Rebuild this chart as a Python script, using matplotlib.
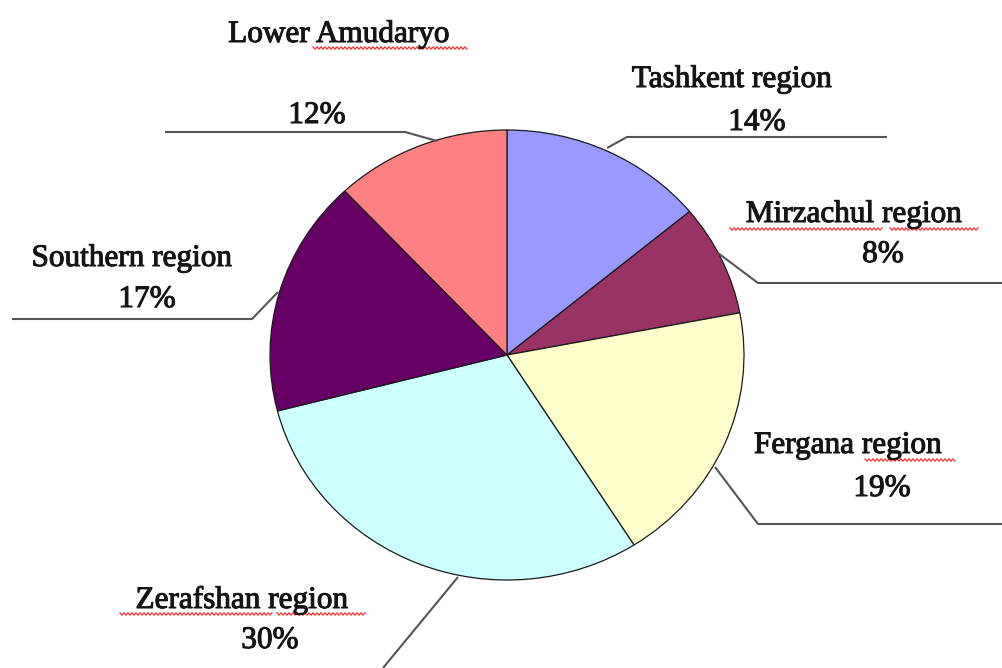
import numpy as np
import matplotlib
matplotlib.use("Agg")
import matplotlib.pyplot as plt
import matplotlib.patheffects as pe

# ---- data ----
regions = ["Tashkent region", "Mirzachul region", "Fergana region",
           "Zerafshan region", "Southern region", "Lower Amudaryo"]
shares = [14, 8, 19, 30, 17, 12]
colors = ["#9999FF", "#993366", "#FFFFCC", "#CCFFFF", "#660066", "#FF8080"]

W, H = 1003, 668
fig = plt.figure(figsize=(W / 100, H / 100), dpi=100)
fig.patch.set_facecolor("white")

# pie axes (slightly elliptical, as in the reference)
cx, cy, rx, ry = 507, 355, 237, 225
pax = fig.add_axes([(cx - rx) / W, (H - cy - ry) / H, 2 * rx / W, 2 * ry / H])
pax.pie(shares, colors=colors, startangle=90, counterclock=False, radius=1,
        wedgeprops=dict(edgecolor="#1a1a1a", linewidth=0.9))
pax.set_xlim(-1, 1)
pax.set_ylim(-1, 1)
pax.set_aspect("auto")
pax.axis("off")

# overlay in pixel coordinates for labels and leader lines
ax = fig.add_axes([0, 0, 1, 1])
ax.set_xlim(0, W)
ax.set_ylim(H, 0)
ax.axis("off")

font = dict(family=["Liberation Serif", "DejaVu Serif"], fontsize=22.5,
            color="#141414", ha="center", va="baseline",
            path_effects=[pe.withStroke(linewidth=0.75, foreground="#141414")])

# label layout: (name baseline position, percent baseline position, leader line)
layout = {
    "Tashkent region": ((732, 87), (757, 130),
                        [(607, 148), (627, 137), (887, 137)]),
    "Mirzachul region": ((854, 222), (883, 262),
                         [(718, 253), (758, 283), (1003, 283)]),
    "Fergana region": ((848, 453), (882, 496),
                       [(715, 467), (758, 524), (1003, 524)]),
    "Zerafshan region": ((242, 608), (270, 648),
                         [(458, 577), (383, 668)]),
    "Southern region": ((132, 266), (147, 307),
                        [(278, 292), (252, 319), (12, 319)]),
    "Lower Amudaryo": ((339, 42), (317, 123),
                       [(437, 141), (405, 132), (165, 132)]),
}

for name, val in zip(regions, shares):
    (nx, ny), (px, py), pts = layout[name]
    ax.text(nx, ny, name, **font)
    ax.text(px, py, f"{val}%", **font)
    xs, ys = zip(*pts)
    ax.plot(xs, ys, color="#555555", lw=1.5, solid_capstyle="butt")

# red spell-check squiggles under some words
squiggles = [(313, 468, 48), (730, 883, 229), (890, 978, 229),
             (865, 955, 460), (120, 272, 614), (277, 365, 614)]
for x0, x1, y in squiggles:
    xx = np.arange(x0, x1 + 0.1, 2.0)
    yy = y + np.where(np.arange(len(xx)) % 2 == 0, -1.2, 1.2)
    ax.plot(xx, yy, color="#FF3030", lw=0.9)

fig.savefig("out.png", dpi=100, facecolor="white")
